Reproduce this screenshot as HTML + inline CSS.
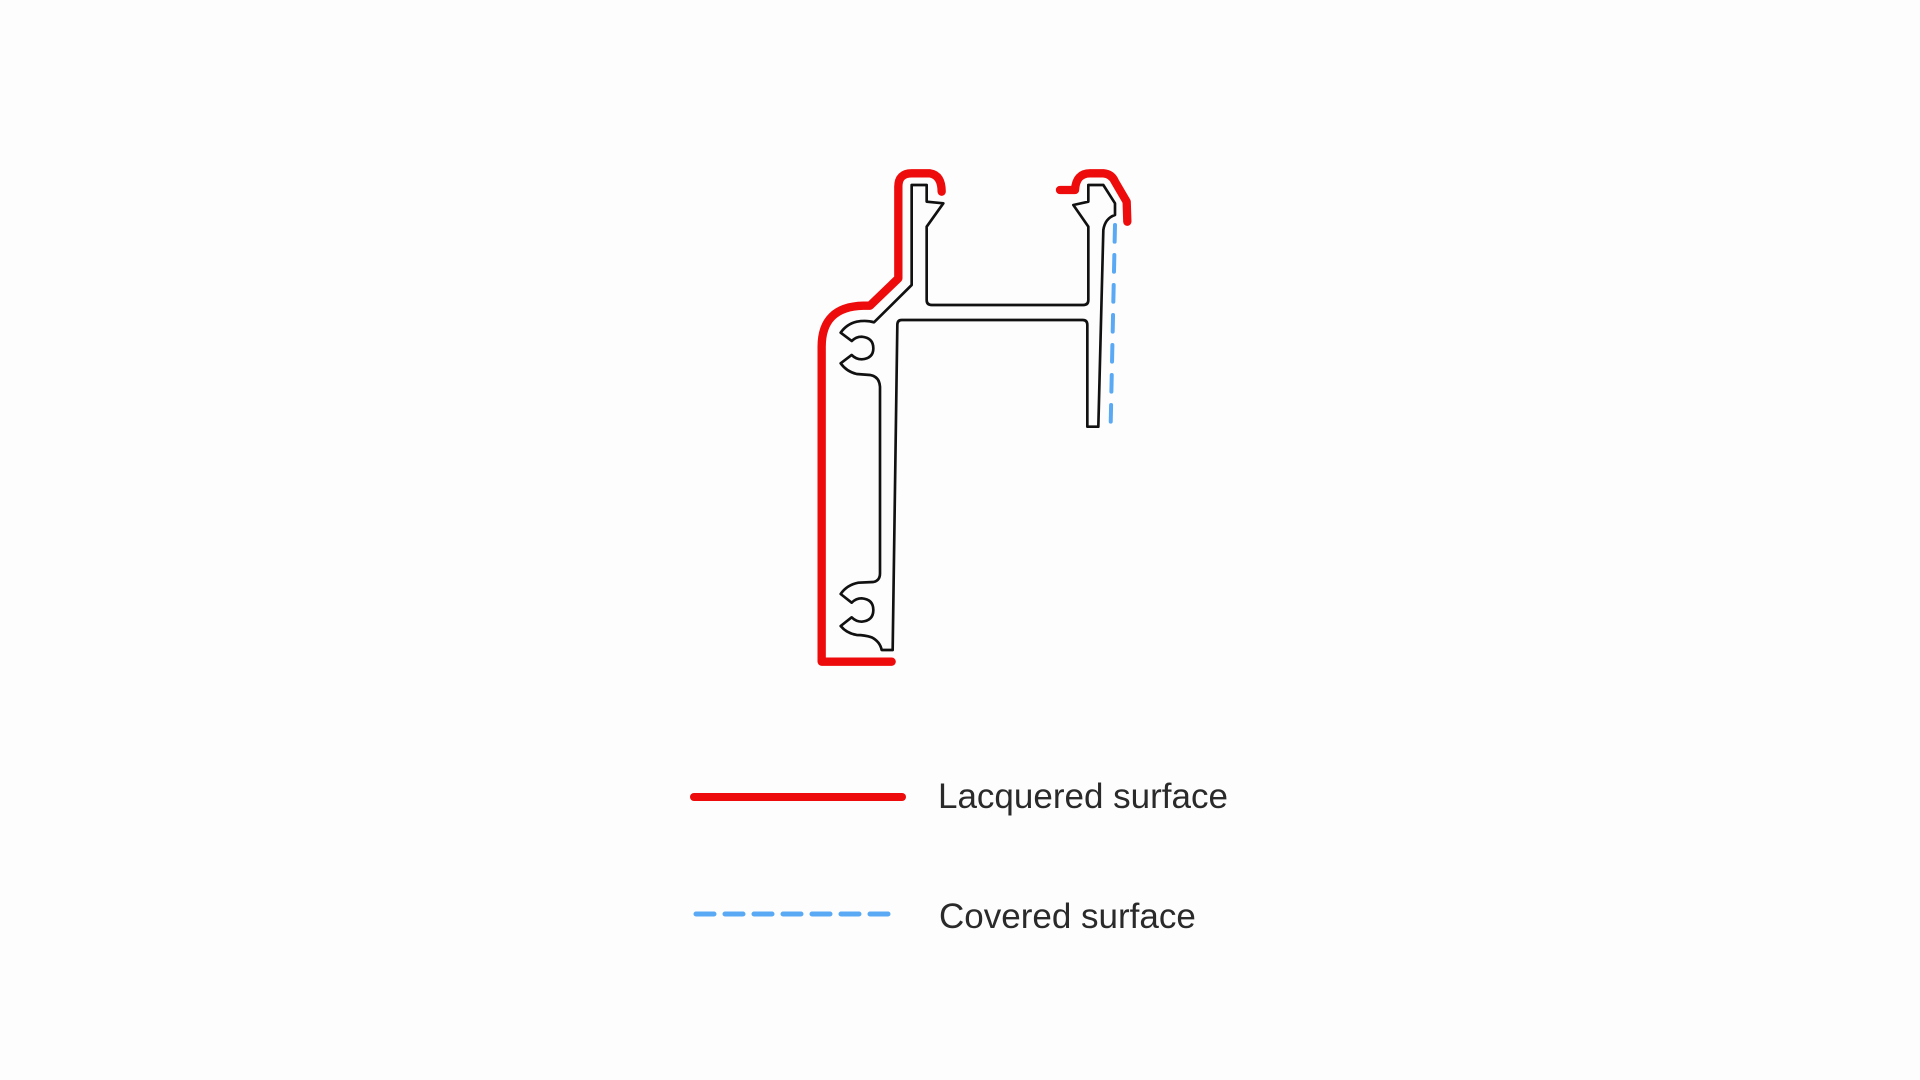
<!DOCTYPE html>
<html><head><meta charset="utf-8"><style>
html,body{margin:0;padding:0;background:#fdfdfd;}
svg{display:block}
</style></head><body>
<svg width="1920" height="1080" viewBox="0 0 1920 1080" xmlns="http://www.w3.org/2000/svg">
<rect width="1920" height="1080" fill="#fdfdfd"/>
<g transform="translate(800,160) scale(0.33333)">
<path d="M335,75 L380,75 L380,125 L430,130 L380,200 L380,420 Q380,435 395,435 L850,435 Q865,435 865,420 L865,200 L820,135 L865,125 L865,75 L910,75 L945,130 L945,165 Q915,175 910,210 L895,800 L862,800 L862,495 Q862,480 848,480 L305,480 Q292,480 292,495 L278,1470 L245,1470 Q240,1445 215,1432 Q195,1425 170,1425 Q140,1420 122,1398 L155,1372 Q168,1385 185,1385 Q220,1382 220,1350 Q220,1318 185,1315 Q168,1315 155,1328 L122,1302 Q140,1275 175,1268 L220,1266 Q240,1262 240,1240 L240,680 Q238,650 210,645 L170,642 Q140,635 122,610 L155,585 Q168,598 185,598 Q220,595 220,565 Q220,533 185,530 Q168,530 155,543 L122,518 Q140,492 170,485 Q200,480 222,487 L335,375 Z" fill="none" stroke="#111" stroke-width="8" stroke-linejoin="round"/>
<path d="M275,1505 L65,1505 L65,560 Q65,440 190,437 L210,437 L295,355 L295,80 Q295,40 335,40 L390,40 Q425,45 425,95" fill="none" stroke="#ee0b0b" stroke-width="25" stroke-linecap="round" stroke-linejoin="round"/>
<path d="M780,90 L825,90 Q828,40 870,40 L910,40 Q935,42 945,65 L980,125 L982,185" fill="none" stroke="#ee0b0b" stroke-width="25" stroke-linecap="round" stroke-linejoin="round"/>
<path d="M945,195 L932,795" fill="none" stroke="#5aa9f5" stroke-width="12" stroke-linecap="round" stroke-dasharray="50,40"/>
</g>
<line x1="694" y1="797" x2="902" y2="797" stroke="#ee0b0b" stroke-width="8" stroke-linecap="round"/>
<line x1="696" y1="914" x2="894" y2="914" stroke="#5aa9f5" stroke-width="5" stroke-linecap="round" stroke-dasharray="18,11"/>
<text x="938" y="808" font-family="Liberation Sans, sans-serif" font-size="35" fill="#2a2a2a">Lacquered surface</text>
<text x="939" y="928" font-family="Liberation Sans, sans-serif" font-size="35" fill="#2a2a2a">Covered surface</text>
</svg>
</body></html>
